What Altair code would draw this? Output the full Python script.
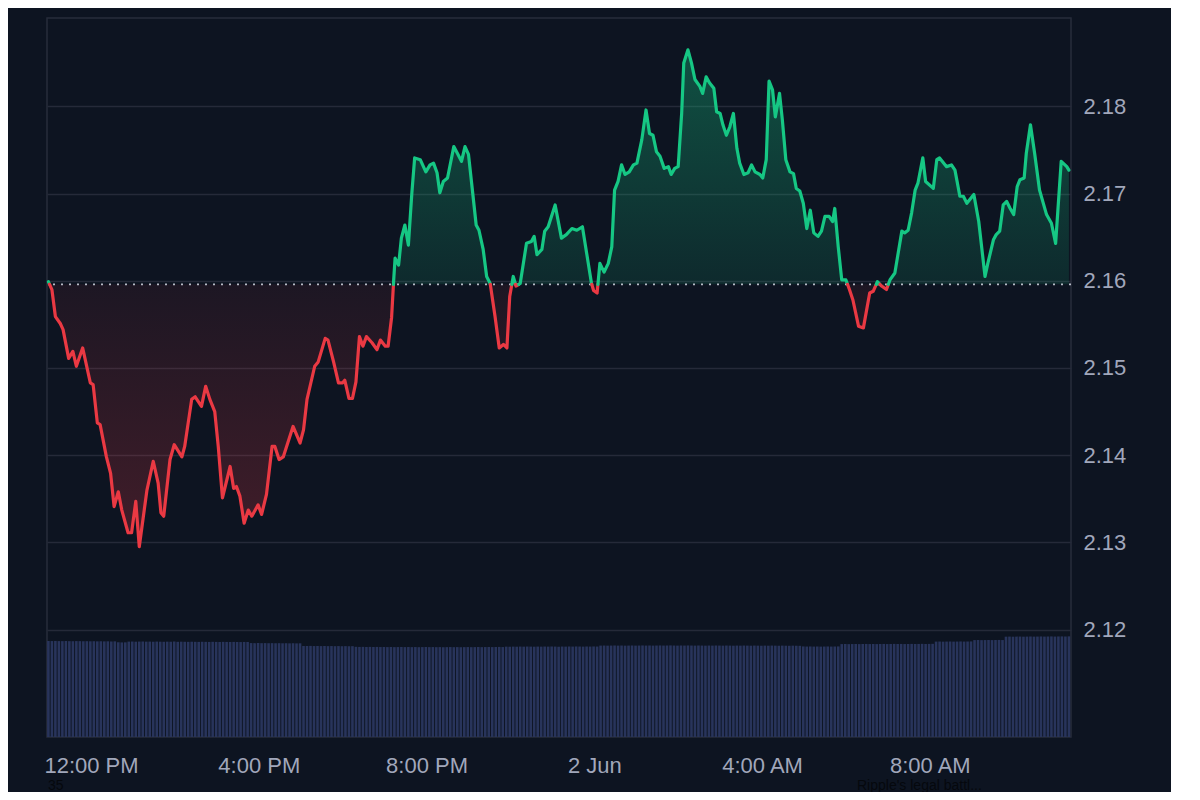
import altair as alt
import pandas as pd

# ---------------- data ----------------
BASE_PRICE = 2.1596          # dotted reference line (open price)
T0 = pd.Timestamp("2025-06-01 12:00:00")   # offsets below are minutes from 1 Jun 12:00 PM

minutes = [
    -61, -56, -51, -44, -40, -32, -26, -21, -12, -1, 3, 9, 13, 22, 28, 33, 39, 44, 53, 58,
    64, 69, 80, 89, 96, 100, 104, 113, 119, 130, 134, 144, 149, 158, 164, 170, 177, 182, 188, 199,
    204, 208, 213, 219, 225, 230, 239, 244, 251, 259, 263, 269, 275, 289, 299, 304, 309, 320, 325, 335,
    339, 347, 354, 360, 363, 369, 374, 379, 384, 389, 394, 402, 409, 414, 421, 425, 430, 433, 435, 440,
    444, 449, 454, 459, 463, 471, 479, 485, 490, 495, 499, 504, 510, 519, 525, 530, 535, 540, 546, 551,
    555, 561, 566, 571, 578, 584, 590, 595, 599, 604, 608, 614, 623, 630, 634, 638, 645, 649, 654, 664,
    673, 680, 688, 695, 703, 709, 716, 719, 724, 728, 734, 740, 745, 749, 754, 759, 764, 770, 776, 781,
    788, 794, 799, 804, 809, 814, 820, 826, 830, 835, 840, 845, 848, 854, 859, 864, 871, 875, 880, 885,
    891, 895, 900, 904, 909, 914, 919, 924, 928, 934, 940, 945, 950, 957, 961, 966, 970, 975, 979, 985,
    989, 994, 1000, 1005, 1009, 1014, 1019, 1024, 1029, 1034, 1040, 1045, 1050, 1056, 1061, 1064, 1069, 1074, 1080, 1085,
    1090, 1098, 1105, 1114, 1119, 1125, 1131, 1138, 1143, 1150, 1160, 1164, 1169, 1174, 1179, 1183, 1190, 1194, 1205, 1210,
    1214, 1224, 1231, 1236, 1243, 1248, 1253, 1257, 1263, 1270, 1279, 1283, 1291, 1295, 1300, 1305, 1310, 1315, 1320, 1325,
    1329, 1335, 1338, 1344, 1350, 1357, 1367, 1374, 1380, 1388, 1396, 1399,
]

prices = [
    2.1599, 2.1590, 2.1559, 2.1551, 2.1544, 2.1511, 2.1519, 2.1502, 2.1523, 2.1483, 2.1481, 2.1437, 2.1435, 2.1398, 2.1379, 2.1341, 2.1358, 2.1337, 2.1311, 2.1311,
    2.1347, 2.1295, 2.1360, 2.1393, 2.1368, 2.1334, 2.1330, 2.1395, 2.1412, 2.1398, 2.1410, 2.1464, 2.1467, 2.1456, 2.1479, 2.1464, 2.1450, 2.1410, 2.1351, 2.1387,
    2.1362, 2.1364, 2.1353, 2.1322, 2.1337, 2.1330, 2.1343, 2.1332, 2.1355, 2.1410, 2.1410, 2.1395, 2.1398, 2.1433, 2.1414, 2.1429, 2.1464, 2.1502, 2.1507, 2.1534,
    2.1532, 2.1507, 2.1483, 2.1483, 2.1486, 2.1465, 2.1465, 2.1484, 2.1536, 2.1525, 2.1536, 2.1529, 2.1521, 2.1532, 2.1525, 2.1525, 2.1558, 2.1601, 2.1626, 2.1618,
    2.1649, 2.1664, 2.1641, 2.1701, 2.1741, 2.1739, 2.1725, 2.1733, 2.1735, 2.1724, 2.1701, 2.1714, 2.1718, 2.1754, 2.1745, 2.1737, 2.1754, 2.1745, 2.1701, 2.1664,
    2.1658, 2.1636, 2.1605, 2.1597, 2.1559, 2.1523, 2.1527, 2.1523, 2.1582, 2.1605, 2.1594, 2.1597, 2.1643, 2.1645, 2.1651, 2.1630, 2.1636, 2.1657, 2.1662, 2.1687,
    2.1649, 2.1653, 2.1660, 2.1658, 2.1662, 2.1632, 2.1597, 2.1589, 2.1586, 2.1620, 2.1610, 2.1620, 2.1639, 2.1704, 2.1714, 2.1733, 2.1722, 2.1725, 2.1733, 2.1735,
    2.1762, 2.1796, 2.1769, 2.1767, 2.1748, 2.1743, 2.1729, 2.1731, 2.1722, 2.1729, 2.1731, 2.1792, 2.1850, 2.1865, 2.1850, 2.1831, 2.1823, 2.1815, 2.1834, 2.1827,
    2.1821, 2.1794, 2.1792, 2.1779, 2.1767, 2.1777, 2.1792, 2.1752, 2.1735, 2.1722, 2.1724, 2.1733, 2.1725, 2.1722, 2.1718, 2.1739, 2.1829, 2.1819, 2.1788, 2.1815,
    2.1785, 2.1739, 2.1725, 2.1723, 2.1706, 2.1703, 2.1689, 2.1660, 2.1681, 2.1655, 2.1651, 2.1657, 2.1674, 2.1674, 2.1668, 2.1683, 2.1639, 2.1601, 2.1601, 2.1590,
    2.1578, 2.1548, 2.1546, 2.1586, 2.1588, 2.1599, 2.1594, 2.1590, 2.1601, 2.1609, 2.1657, 2.1655, 2.1658, 2.1678, 2.1704, 2.1712, 2.1741, 2.1714, 2.1706, 2.1739,
    2.1741, 2.1731, 2.1733, 2.1727, 2.1697, 2.1697, 2.1689, 2.1693, 2.1699, 2.1668, 2.1605, 2.1620, 2.1647, 2.1653, 2.1657, 2.1687, 2.1691, 2.1683, 2.1676, 2.1708,
    2.1716, 2.1718, 2.1746, 2.1779, 2.1746, 2.1704, 2.1676, 2.1666, 2.1643, 2.1737, 2.1731, 2.1727,
]

# volume bars, one every 5 minutes starting at minute -61 (arbitrary units, millions)
VOL_START = -61
VOL_STEP = 5
volume = [
    2404, 2402, 2405, 2401, 2400, 2403, 2399, 2398, 2401, 2400, 2397, 2399, 2396, 2398, 2395, 2397, 2394, 2396, 2393, 2395,
    2372, 2368, 2370,
    2388, 2390, 2386, 2389, 2391, 2387, 2388, 2385, 2389, 2386, 2384, 2387, 2385, 2388, 2383, 2386, 2384, 2382, 2385, 2383,
    2381, 2384, 2382, 2380, 2383, 2381, 2379, 2382, 2380, 2378, 2381, 2379, 2377, 2380, 2378,
    2352, 2350, 2353, 2349, 2351, 2348, 2350, 2347, 2349, 2346, 2348, 2345, 2347, 2344, 2346,
    2280, 2278, 2281, 2277, 2279, 2276, 2278, 2275, 2277, 2274, 2276, 2273, 2275, 2272, 2274,
    2258, 2255, 2257, 2254, 2256, 2253, 2255, 2252, 2254, 2251, 2253, 2250, 2252, 2254, 2251, 2253, 2250, 2252, 2249, 2251,
    2253, 2250, 2252, 2249, 2251, 2248, 2250, 2252, 2249, 2251, 2248, 2250, 2252, 2249, 2251, 2253, 2250, 2252, 2254, 2251,
    2253, 2255, 2252,
    2262, 2260, 2263, 2261, 2264, 2262, 2265, 2263, 2261, 2264, 2262, 2265, 2263, 2266, 2264, 2262, 2265, 2263, 2266, 2264,
    2267, 2265, 2263, 2266, 2264, 2267, 2265,
    2288, 2290, 2287, 2289, 2291, 2288, 2290, 2287, 2289, 2291, 2288, 2290, 2292, 2289, 2291, 2288, 2290, 2292, 2289, 2291,
    2293, 2290, 2288, 2291, 2289, 2292, 2290, 2288, 2291, 2289, 2287, 2290, 2288, 2291, 2289, 2287, 2290, 2288, 2286, 2289,
    2287, 2290, 2288, 2286, 2289, 2287, 2285, 2288, 2286, 2289, 2287, 2285, 2288, 2286, 2284, 2287, 2285, 2283,
    2268, 2265, 2267, 2264, 2266, 2263, 2265, 2267, 2264, 2266, 2268,
    2326, 2328, 2325, 2327, 2329, 2326, 2328, 2330, 2327, 2329, 2326, 2328, 2330, 2327, 2329, 2331, 2328, 2330, 2327, 2329,
    2331, 2328, 2330, 2332, 2329, 2331, 2333,
    2388, 2390, 2387, 2389, 2391, 2388, 2390, 2392, 2389, 2391, 2393,
    2426, 2428, 2425, 2427, 2429, 2426, 2428, 2430, 2427,
    2512, 2514, 2511, 2513, 2515, 2512, 2514, 2516, 2513, 2515, 2517, 2514, 2516, 2518, 2515, 2517, 2519, 2516, 2520,
]

y_ticks = [2.12, 2.13, 2.14, 2.15, 2.16, 2.17, 2.18]
Y_DOMAIN = [2.10767, 2.19015]
VOL_DOMAIN = [0, 18000]

# ---------------- styling ----------------
BG = "#0d1421"
GREEN = "#16c784"
RED = "#ea3943"
GRID = "#252a39"
LABEL = "#a1a7bb"
FONT = "Liberation Sans"
W, H = 1024, 719

# ---------------- split the series at the baseline ----------------
def side(v):
    return "up" if v >= BASE_PRICE else "down"

pts = list(zip(minutes, prices))
rows = []
run = 0
cur = side(pts[0][1])
rows.append((pts[0][0], pts[0][1], run, cur))
for (t0, v0), (t1, v1) in zip(pts[:-1], pts[1:]):
    s1 = side(v1)
    if s1 != cur:
        tc = t0 + (BASE_PRICE - v0) / (v1 - v0) * (t1 - t0) if v1 != v0 else t0
        rows.append((tc, BASE_PRICE, run, cur))
        run += 1
        cur = s1
        rows.append((tc, BASE_PRICE, run, cur))
    rows.append((t1, v1, run, cur))

line_df = pd.DataFrame(rows, columns=["m", "price", "run", "side"])
line_df["time"] = (T0 + pd.to_timedelta(line_df["m"], unit="min")).dt.round("s")
line_df["upper"] = line_df["price"].clip(lower=BASE_PRICE)
line_df["lower"] = line_df["price"].clip(upper=BASE_PRICE)
line_df = line_df.drop(columns=["m"])

vol_df = pd.DataFrame({
    "time": [T0 + pd.Timedelta(minutes=VOL_START + i * VOL_STEP) for i in range(len(volume))],
    "volume": volume,
})

# ---------------- scales / axes ----------------
x_scale = alt.Scale(nice=False, padding=0, domain=[
    alt.DateTime(year=2025, month=6, date=1, hours=10, minutes=57),
    alt.DateTime(year=2025, month=6, date=2, hours=11, minutes=22),
])
x_ticks = [
    alt.DateTime(year=2025, month=6, date=1, hours=12),
    alt.DateTime(year=2025, month=6, date=1, hours=16),
    alt.DateTime(year=2025, month=6, date=1, hours=20),
    alt.DateTime(year=2025, month=6, date=2, hours=0),
    alt.DateTime(year=2025, month=6, date=2, hours=4),
    alt.DateTime(year=2025, month=6, date=2, hours=8),
]
x_axis = alt.Axis(
    values=x_ticks, grid=False, domain=False, ticks=False, labelFlush=False,
    labelPadding=18, title=None,
    labelExpr="hours(datum.value) == 0 ? timeFormat(datum.value, '%-d %b') : timeFormat(datum.value, '%-I:%M %p')",
)
y_scale = alt.Scale(domain=Y_DOMAIN, nice=False, zero=False)
y_axis = alt.Axis(
    orient="right", values=y_ticks, format=".2f", grid=True, gridColor=GRID, gridWidth=1.5,
    domain=False, ticks=False, labelPadding=12, title=None,
)

X = alt.X("time:T", scale=x_scale, axis=x_axis)

# ---------------- layers ----------------
bars = alt.Chart(vol_df).mark_bar(size=2.6, color="#28345b").encode(
    x=X,
    y=alt.Y("volume:Q", scale=alt.Scale(domain=VOL_DOMAIN), axis=None),
)

green_fill = alt.Gradient(
    gradient="linear",
    stops=[alt.GradientStop(color="rgba(22,199,132,0.34)", offset=0),
           alt.GradientStop(color="rgba(22,199,132,0.12)", offset=1)],
    x1=1, x2=1, y1=0, y2=1,
)
red_fill = alt.Gradient(
    gradient="linear",
    stops=[alt.GradientStop(color="rgba(234,57,67,0.07)", offset=0),
           alt.GradientStop(color="rgba(234,57,67,0.24)", offset=1)],
    x1=1, x2=1, y1=0, y2=1,
)

area_up = alt.Chart(line_df).mark_area(color=green_fill).encode(
    x=X, y=alt.Y("upper:Q", scale=y_scale, axis=y_axis), y2=alt.datum(BASE_PRICE),
)
area_down = alt.Chart(line_df).mark_area(color=red_fill).encode(
    x=X, y=alt.Y("lower:Q", scale=y_scale), y2=alt.datum(BASE_PRICE),
)
base_rule = alt.Chart(pd.DataFrame({"base": [BASE_PRICE]})).mark_rule(
    color="#c9cdd8", strokeDash=[2, 6], strokeWidth=1.8, opacity=0.9,
).encode(y=alt.Y("base:Q", scale=y_scale))
price_line = alt.Chart(line_df).mark_line(strokeWidth=3.2, strokeCap="round", strokeJoin="round").encode(
    x=X,
    y=alt.Y("price:Q", scale=y_scale),
    color=alt.Color("side:N", scale=alt.Scale(domain=["up", "down"], range=[GREEN, RED]), legend=None),
    detail="run:N",
)

price = alt.layer(area_up, area_down, base_rule, price_line)

overlay_df = pd.DataFrame({"label": ["35", "Ripple's legal battl..."], "px": [1, 810]})
overlay = alt.Chart(overlay_df).mark_text(
    align="left", baseline="alphabetic", font=FONT, fontSize=14, color="#05080d",
).encode(text="label:N", x=alt.X("px:Q", scale=None), y=alt.value(H + 53))

chart = (
    alt.layer(bars, price, overlay)
    .resolve_scale(y="independent")
    .properties(
        width=W, height=H,
        padding={"left": 39, "top": 10, "right": 100, "bottom": 55},
        autosize=alt.AutoSizeParams(type="none"),
        background=BG,
    )
    .configure_view(stroke="#272c3b", strokeWidth=1.5)
    .configure_axis(labelFont=FONT, labelFontSize=22, labelColor=LABEL)
)

chart.save("out.html", embed_options={"renderer": "svg", "actions": False})
